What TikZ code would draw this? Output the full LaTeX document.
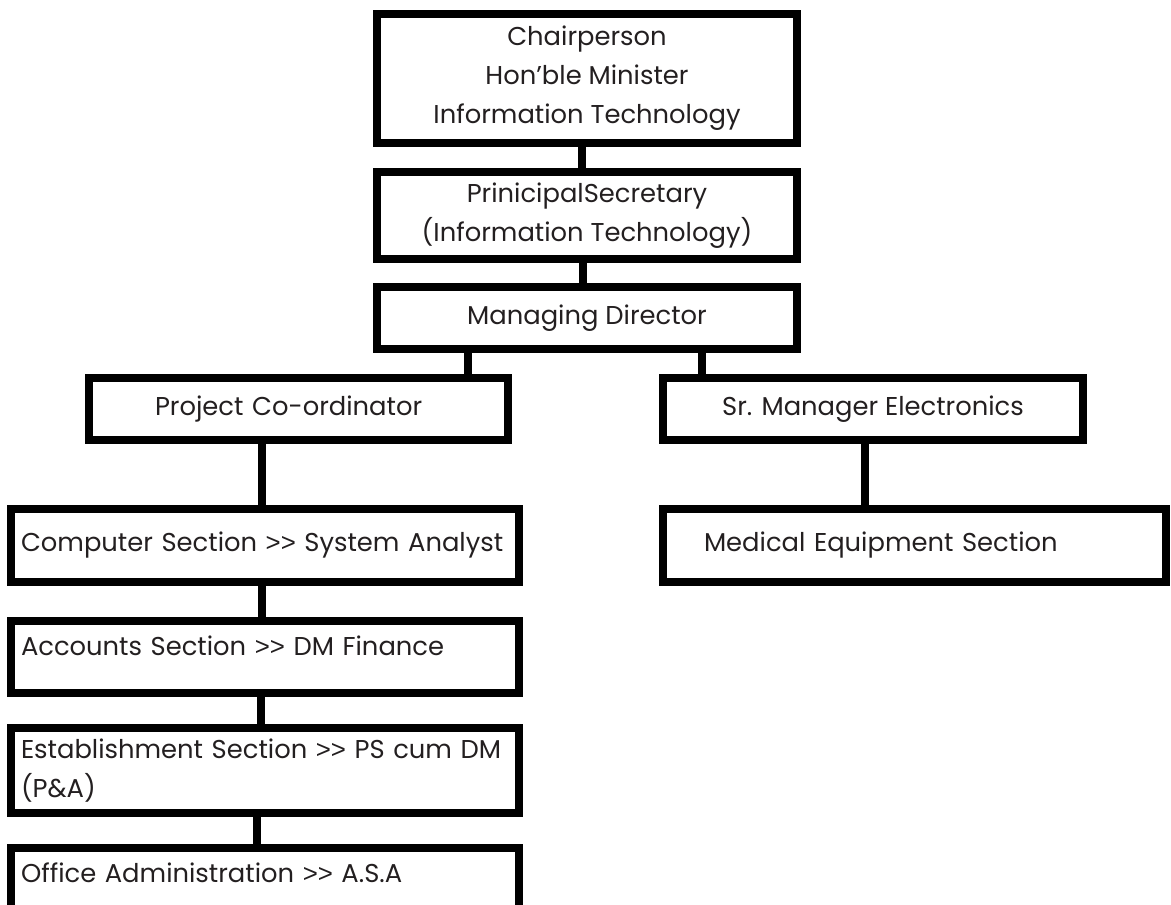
\documentclass[tikz,border=0pt]{standalone}
\usepackage{fontspec}
\setmainfont{Poppins}[Ligatures=TeXOff]
\newfontfamily\gtfont{Liberation Sans}[Ligatures=TeXOff]
\definecolor{txt}{RGB}{35,31,32}
\tikzset{
  box/.style={draw=black, line width=4pt, inner sep=0pt, text=txt,
              font=\fontsize{12.9pt}{19.5pt}\selectfont},
  leftbox/.style={box, align=left, text width=244pt, inner xsep=5pt},
  conn/.style={draw=black, line width=4pt}
}
\begin{document}
\begin{tikzpicture}[x=0.5pt, y=-0.5pt]
\useasboundingbox (0,0) rectangle (1171,904);

\node[box, minimum width=210pt, minimum height=64.5pt, align=center] (chair) at (587,78.5)
  {Chairperson\\Hon’ble Minister\\Information Technology};
\node[box, minimum width=210pt, minimum height=43.5pt, align=center] (ps) at (587,215.5)
  {PrinicipalSecretary\\(Information Technology)};
\node[box, minimum width=210pt, minimum height=31pt] (md) at (587,318) {Managing Director};

\node[box, minimum height=31pt, align=left, text width=143.5pt, inner xsep=33pt] (pc) at (298.5,409)
  {Project Co-ordinator};
\node[box, minimum width=210pt, minimum height=31pt] (sme) at (873,409) {Sr. Manager Electronics};

\node[leftbox, minimum height=36.5pt] (cs) at (265,545.5) {Computer Section {\gtfont >>} System Analyst};
\node[box, align=left, text width=210.5pt, inner xsep=20.5pt, minimum height=36.5pt] (mes) at (914.5,545.5)
  {Medical Equipment Section};

\node[leftbox, minimum height=36pt, text height=10pt, text depth=12pt] (acc) at (265,657)
  {Accounts Section {\gtfont >>} DM Finance};
\node[leftbox, minimum height=42.5pt, text height=10pt, text depth=22.5pt] (est) at (265,770.5)
  {Establishment Section {\gtfont >>} PS cum DM\\(P\&A)};
\node[leftbox, minimum height=36pt, text height=10pt, text depth=12pt] (oa) at (265,884)
  {Office Administration {\gtfont >>} A.S.A};

\coordinate (k1) at (582,0);
\coordinate (k2) at (583,0);
\coordinate (k3) at (468,0);
\coordinate (k4) at (702,0);
\coordinate (k5) at (262,0);
\coordinate (k6) at (865,0);
\coordinate (k7) at (262,0);
\coordinate (k8) at (261,0);
\coordinate (k9) at (257,0);

\draw[conn] (chair.south -| k1) -- (ps.north -| k1);
\draw[conn] (ps.south -| k2) -- (md.north -| k2);
\draw[conn] (md.south -| k3) -- (pc.north -| k3);
\draw[conn] (md.south -| k4) -- (sme.north -| k4);
\draw[conn] (pc.south -| k5) -- (cs.north -| k5);
\draw[conn] (sme.south -| k6) -- (mes.north -| k6);
\draw[conn] (cs.south -| k7) -- (acc.north -| k7);
\draw[conn] (acc.south -| k8) -- (est.north -| k8);
\draw[conn] (est.south -| k9) -- (oa.north -| k9);
\end{tikzpicture}
\end{document}
